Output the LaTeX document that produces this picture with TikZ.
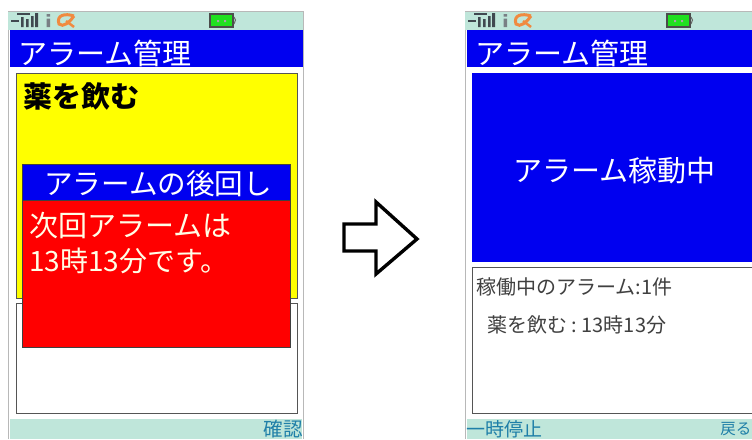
\documentclass[tikz,border=0pt]{standalone}
\usepackage{fontspec}
\setmainfont{Noto Sans CJK JP}
\definecolor{barteal}{HTML}{BFE6DA}
\definecolor{softkey}{HTML}{1F7FA8}
\definecolor{frameg}{HTML}{B8B8B8}
\definecolor{boxg}{HTML}{555555}
\definecolor{titleblue}{HTML}{0000F0}
\definecolor{iconorange}{HTML}{F08A40}
\definecolor{icongray}{HTML}{404850}
\definecolor{battgreen}{HTML}{20E020}
\definecolor{pureyellow}{RGB}{255,255,0}
\tikzset{
  x=1pt,y=-1pt,
  txt/.style={inner sep=0pt,anchor=west},
  boxline/.style={draw=boxg,line width=1pt},
  darkbox/.style={draw=black!75,line width=1pt},
}
\newcommand{\statusbar}[1]{%
  \begin{scope}[shift={(#1,0)}]
    \fill[barteal] (0,12) rectangle (295,30);
    \fill[titleblue] (2,30) rectangle (295,67);
    \draw[icongray,line width=1.2pt] (3,21) -- (11,21);
    \fill[icongray] (13,17) rectangle (15.5,27) (18,19) rectangle (20.5,27) (23,16) rectangle (25.5,27)
       (27,13) rectangle (30,27);
    \draw[icongray,line width=1.4pt] (9,14) -- (22,14);
    \fill[icongray!70] (38.5,14) rectangle (42,16.5) (38.5,18.5) rectangle (42,27);
    \draw[iconorange,line width=3pt] (66,16) .. controls (57,13) and (48,15) .. (51,24) .. controls (55,28) and (62,22) .. (66,16);
    \draw[iconorange,line width=2.5pt] (58,21) -- (66,27);
    \fill[battgreen] (202,15) rectangle (225,27);
    \draw[black!70,line width=1.4pt] (202,14) rectangle (225,27);
    \draw[black!60,line width=1pt] (226,17) -- (227.5,20) -- (226,24);
    \fill[black!35] (209,20) rectangle (211,22) (216,20) rectangle (218,22);
  \end{scope}}
\begin{document}
\begin{tikzpicture}
\useasboundingbox (0,0) rectangle (752,439);
\fill[white] (0,0) rectangle (752,439);
% left phone
\draw[frameg,line width=1pt] (8,439) -- (8,11) -- (303,11) -- (303,439);
\statusbar{8}
\fill[barteal] (10,419) rectangle (302,439);
\node[txt,font=\fontsize{29}{29}\selectfont,text=white] (t1) at (18,53) {アラーム管理};
\node[txt,anchor=east,font=\fontsize{19.5}{19.5}\selectfont,text=softkey] (k1) at (303,429) {確認};
\filldraw[fill=pureyellow,boxline] (16,73) rectangle (297,298);
\filldraw[fill=white,boxline] (16,303) rectangle (297,413);
\node[txt,font=\fontsize{29}{29}\selectfont\bfseries,text=black] (m1) at (23,96) {薬を飲む};
\filldraw[fill=titleblue,darkbox] (22,164) rectangle (290,200);
\filldraw[fill=red,darkbox] (22,200) rectangle (290,347);
\node[txt,font=\fontsize{28.6}{28.6}\selectfont,text=white] (a1) at (44,184) {アラームの後回し};
\node[txt,font=\fontsize{29}{29}\selectfont,text=white!90!yellow] (a2) at (29,226) {次回アラームは};
\node[txt,font=\fontsize{28}{28}\selectfont,text=white!90!yellow] (a3) at (29,261) {13時13分です。};
% arrow
\draw[black,line width=3.4pt,line join=miter,fill=white] (344,224) -- (376,224) -- (376,202) -- (417,239) -- (376,274) -- (376,251) -- (344,251) -- cycle;
% right phone
\draw[frameg,line width=1pt] (465,439) -- (465,11) -- (752,11);
\statusbar{465}
\fill[barteal] (467,419) rectangle (752,439);
\node[txt,font=\fontsize{29}{29}\selectfont,text=white] (t2) at (475,53) {アラーム管理};
\node[txt,font=\fontsize{19}{19}\selectfont,text=softkey] (k2) at (466,429) {一時停止};
\node[txt,anchor=east,font=\fontsize{15.5}{15.5}\selectfont,text=softkey] (k3) at (751.5,429) {戻る};
\fill[titleblue] (472,73) rectangle (752,262);
\draw[boxg,line width=1pt] (752,267) -- (472,267) -- (472,413) -- (752,413);
\node[txt,font=\fontsize{29}{29}\selectfont,text=white] (b1) at (513,171) {アラーム稼動中};
\node[txt,font=\fontsize{20}{20}\selectfont,text=black!75] (c1) at (476,287) {稼働中のアラーム:1件};
\node[txt,font=\fontsize{20}{20}\selectfont,text=black!75] (c2) at (487,325) {薬を飲む\ :\ 13時13分};
\end{tikzpicture}
\end{document}
